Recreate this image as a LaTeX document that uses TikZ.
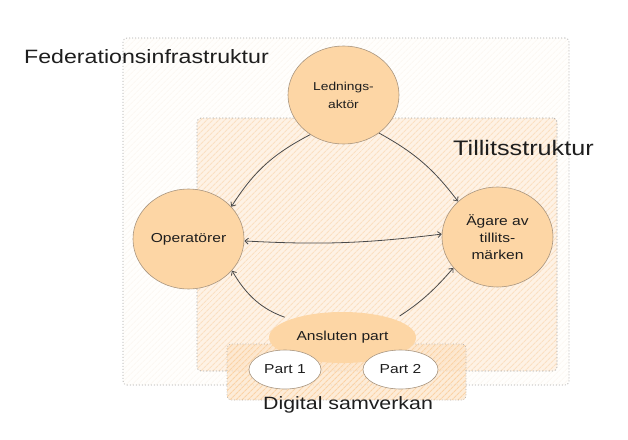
\documentclass[tikz,border=0pt]{standalone}
\usepackage{fontspec}
\setmainfont[FakeStretch=1.2]{Liberation Sans}
\usetikzlibrary{arrows.meta,patterns.meta,shapes.geometric}
\definecolor{ink}{HTML}{1E1E1E}
\definecolor{nodefill}{HTML}{FDD6A5}
\definecolor{nodeedge}{HTML}{A8957F}
\definecolor{boxedge}{HTML}{A9A9A9}
\definecolor{innerbg}{HTML}{FEF2E5}
\definecolor{innerhatch}{HTML}{FBE0C2}
\definecolor{outerbg}{HTML}{FFFEFC}
\definecolor{outerhatch}{HTML}{FCF8F3}
\definecolor{digbg}{HTML}{FDE6CC}
\definecolor{dighatch}{HTML}{FBD3A6}
\definecolor{arrowc}{HTML}{4A4A4A}
\tikzset{
  frame/.style={draw=boxedge, dotted, line width=0.7pt, rounded corners=4pt, inner sep=0pt},
  actor/.style={ellipse, draw=nodeedge, fill=nodefill, line width=0.6pt, inner sep=0pt,
    align=center, text=ink, font=\fontsize{13}{17}\selectfont},
  party/.style={ellipse, draw=nodeedge, fill=white, line width=0.6pt, inner sep=0pt,
    text=ink, font=\fontsize{13}{17}\selectfont},
  flow/.style={draw=arrowc, line width=0.8pt, -{Straight Barb[length=3.5pt,width=6pt]}},
  twoway/.style={draw=arrowc, line width=0.8pt, {Straight Barb[length=3.5pt,width=6pt]}-{Straight Barb[length=3.5pt,width=6pt]}},
  title/.style={anchor=base west, text=ink, inner sep=0pt}
}
\begin{document}
\begin{tikzpicture}[x=1pt,y=-1pt]
\useasboundingbox[fill=white] (0,0) rectangle (628,439);
% frames
\node[frame, preaction={fill=outerbg}, pattern={Lines[angle=45,distance=4pt,line width=1pt]}, pattern color=outerhatch,
  minimum width=446pt, minimum height=347pt] (fed) at (346,211.5) {};
\node[frame, preaction={fill=innerbg}, pattern={Lines[angle=45,distance=4pt,line width=1.2pt]}, pattern color=innerhatch,
  minimum width=360pt, minimum height=253pt] (tillit) at (377,244.5) {};
\node[frame, draw opacity=0.9, preaction={fill=digbg, fill opacity=0.75}, pattern={Lines[angle=45,distance=4pt,line width=1.2pt]}, pattern color=dighatch,
  minimum width=239pt, minimum height=56pt] (dig) at (346.5,372) {};
% actors
\node[actor, minimum width=111pt, minimum height=98pt, font=\fontsize{11.5}{18}\selectfont] (led) at (343.5,95) {Lednings-\\aktör};
\node[actor, minimum width=111pt, minimum height=100pt] (op) at (188.5,239) {Operatörer};
\node[actor, minimum width=111pt, minimum height=100pt] (ag) at (497.5,237) {Ägare av\\tillits-\\märken};
\node[actor, draw=none, minimum width=147pt, minimum height=51pt] (ans) at (342.5,337.5) {Ansluten part};
\node[party, minimum width=72pt, minimum height=39pt] (p1) at (285,369.5) {Part 1};
\node[party, minimum width=75pt, minimum height=39pt] (p2) at (400.5,369.5) {Part 2};
% connectors
\draw[flow] (led.230) to[bend right=15] (op.37);
\draw[flow] (led.313) to[bend left=12] (ag.138);
\draw[twoway] (op.358) to[bend right=5] (ag.177);
\draw[flow, shorten <=6pt] (ans.north west) to[bend left=20] (op.324);
\draw[flow, shorten <=6pt] (ans.north east) to[bend right=8] (ag.215);
% titles
\node[title, font=\fontsize{19.3}{22}\selectfont] (tfed) at (24,63) {Federationsinfrastruktur};
\node[title, font=\fontsize{21}{24}\selectfont] (ttil) at (453,155) {Tillitsstruktur};
\node[title, font=\fontsize{17.8}{22}\selectfont] (tdig) at (263,409) {Digital samverkan};
\end{tikzpicture}
\end{document}
